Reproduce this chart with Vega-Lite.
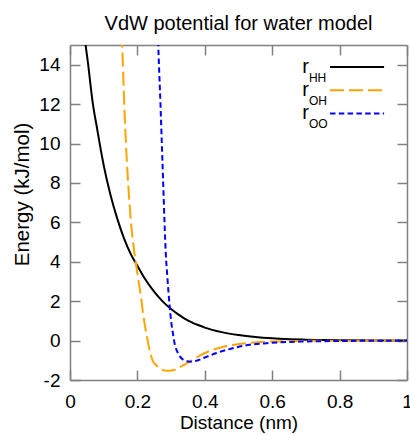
{
  "$schema": "https://vega.github.io/schema/vega-lite/v6.json",
  "autosize": {"type": "none"},
  "width": 337,
  "height": 335,
  "padding": {"left": 70, "top": 45, "right": 3, "bottom": 55},
  "background": "white",
  "title": {"text": "VdW potential for water model", "font": "Liberation Sans", "fontSize": 20, "fontWeight": "normal", "color": "black", "anchor": "middle", "offset": 17, "baseline": "alphabetic", "dy": 23},
  "config": {
    "view": {"stroke": null},
    "axis": {"domainColor": "#808080", "domainWidth": 1.5, "tickColor": "#808080", "tickWidth": 1.5, "tickSize": -10, "grid": false, "labelFont": "Liberation Sans", "labelFontSize": 19, "labelColor": "black", "titleFont": "Liberation Sans", "titleFontSize": 19, "titleFontWeight": "normal", "titleColor": "black", "labelFlush": false, "labelOverlap": false}
  },
  "datasets": {
    "hh": [
      {"r": 0.040, "E": 16.0}, {"r": 0.046, "E": 15.05}, {"r": 0.054, "E": 14.0}, {"r": 0.06, "E": 13.1},
      {"r": 0.068, "E": 12.0}, {"r": 0.08, "E": 10.8}, {"r": 0.086, "E": 10.2}, {"r": 0.10, "E": 8.9},
      {"r": 0.12, "E": 7.4}, {"r": 0.14, "E": 6.2}, {"r": 0.16, "E": 5.2}, {"r": 0.18, "E": 4.4},
      {"r": 0.20, "E": 3.8}, {"r": 0.22, "E": 3.2}, {"r": 0.24, "E": 2.7}, {"r": 0.26, "E": 2.27},
      {"r": 0.28, "E": 1.9}, {"r": 0.30, "E": 1.6}, {"r": 0.32, "E": 1.34}, {"r": 0.34, "E": 1.12},
      {"r": 0.36, "E": 0.94}, {"r": 0.38, "E": 0.79}, {"r": 0.40, "E": 0.66}, {"r": 0.45, "E": 0.43},
      {"r": 0.50, "E": 0.28}, {"r": 0.55, "E": 0.18}, {"r": 0.60, "E": 0.115}, {"r": 0.65, "E": 0.074},
      {"r": 0.70, "E": 0.048}, {"r": 0.75, "E": 0.031}, {"r": 0.80, "E": 0.02}, {"r": 0.90, "E": 0.008},
      {"r": 1.00, "E": 0.003}
    ],
    "oh": [
      {"r": 0.150, "E": 17.5}, {"r": 0.155, "E": 15.0}, {"r": 0.161, "E": 12.0}, {"r": 0.166, "E": 10.0},
      {"r": 0.1725, "E": 8.0}, {"r": 0.181, "E": 6.0}, {"r": 0.187, "E": 5.0}, {"r": 0.195, "E": 4.0},
      {"r": 0.2035, "E": 3.0}, {"r": 0.210, "E": 2.3}, {"r": 0.216, "E": 1.5}, {"r": 0.222, "E": 0.8},
      {"r": 0.2305, "E": 0.0}, {"r": 0.237, "E": -0.55}, {"r": 0.245, "E": -1.0}, {"r": 0.256, "E": -1.25},
      {"r": 0.267, "E": -1.42}, {"r": 0.281, "E": -1.52}, {"r": 0.292, "E": -1.53}, {"r": 0.311, "E": -1.48},
      {"r": 0.336, "E": -1.25}, {"r": 0.356, "E": -1.06}, {"r": 0.385, "E": -0.76}, {"r": 0.415, "E": -0.52},
      {"r": 0.45, "E": -0.34}, {"r": 0.484, "E": -0.22}, {"r": 0.534, "E": -0.11}, {"r": 0.584, "E": -0.055},
      {"r": 0.65, "E": -0.025}, {"r": 0.75, "E": -0.01}, {"r": 0.85, "E": -0.004}, {"r": 1.0, "E": 0.0}
    ],
    "oo": [
      {"r": 0.259, "E": 17.0}, {"r": 0.262, "E": 15.0}, {"r": 0.2685, "E": 12.0}, {"r": 0.2725, "E": 10.0},
      {"r": 0.2765, "E": 8.0}, {"r": 0.2805, "E": 6.0}, {"r": 0.284, "E": 4.5}, {"r": 0.289, "E": 3.2},
      {"r": 0.2955, "E": 1.8}, {"r": 0.300, "E": 1.0}, {"r": 0.306, "E": 0.3}, {"r": 0.311, "E": -0.2},
      {"r": 0.318, "E": -0.55}, {"r": 0.326, "E": -0.8}, {"r": 0.336, "E": -0.97}, {"r": 0.347, "E": -1.05},
      {"r": 0.358, "E": -1.07}, {"r": 0.368, "E": -1.05}, {"r": 0.38, "E": -1.0}, {"r": 0.40, "E": -0.86},
      {"r": 0.435, "E": -0.63}, {"r": 0.485, "E": -0.38}, {"r": 0.534, "E": -0.21}, {"r": 0.584, "E": -0.13},
      {"r": 0.683, "E": -0.05}, {"r": 0.8, "E": -0.02}, {"r": 0.9, "E": -0.008}, {"r": 1.0, "E": 0.0}
    ]
  },
  "layer": [
    {
      "data": {"name": "hh"},
      "mark": {"type": "line", "color": "black", "strokeWidth": 2, "clip": true, "interpolate": "monotone"},
      "encoding": {
        "x": {"field": "r", "type": "quantitative", "scale": {"domain": [0, 1], "nice": false, "zero": false},
              "axis": {"orient": "bottom", "values": [0, 0.2, 0.4, 0.6, 0.8, 1], "format": "~g", "labelPadding": 22, "title": "Distance (nm)", "titleY": 48, "titleBaseline": "alphabetic"}},
        "y": {"field": "E", "type": "quantitative", "scale": {"domain": [-2, 15], "nice": false, "zero": false},
              "axis": {"orient": "left", "values": [-2, 0, 2, 4, 6, 8, 10, 12, 14], "format": "d", "labelExpr": "replace(datum.label, '\u2212', '-')", "labelPadding": 20, "title": "Energy (kJ/mol)", "titleFontSize": 20.5, "titleX": -42, "titleY": 149, "titleAlign": "center", "titleBaseline": "alphabetic", "titleAngle": 270}}
      }
    },
    {
      "data": {"name": "oh"},
      "mark": {"type": "line", "color": "#FFA500", "strokeWidth": 2, "strokeDash": [14, 5], "clip": true, "interpolate": "monotone"},
      "encoding": {
        "x": {"field": "r", "type": "quantitative", "axis": {"orient": "top", "values": [0, 0.2, 0.4, 0.6, 0.8, 1], "labels": false, "title": null}},
        "y": {"field": "E", "type": "quantitative", "axis": {"orient": "right", "values": [-2, 0, 2, 4, 6, 8, 10, 12, 14], "labels": false, "title": null}}
      }
    },
    {
      "data": {"name": "oo"},
      "mark": {"type": "line", "color": "#0000FF", "strokeWidth": 2, "strokeDash": [5.5, 3.3], "clip": true, "interpolate": "monotone"},
      "encoding": {
        "x": {"field": "r", "type": "quantitative", "axis": null},
        "y": {"field": "E", "type": "quantitative", "axis": null}
      }
    },
    {
      "data": {"values": [{}]},
      "mark": {"type": "rule", "color": "black", "strokeWidth": 2},
      "encoding": {"x": {"datum": 0.7715, "axis": null}, "x2": {"datum": 0.932}, "y": {"datum": 13.88, "axis": null}}
    },
    {
      "data": {"values": [{}]},
      "mark": {"type": "rule", "color": "#FFA500", "strokeWidth": 2, "strokeDash": [14, 5]},
      "encoding": {"x": {"datum": 0.7715, "axis": null}, "x2": {"datum": 0.932}, "y": {"datum": 12.71, "axis": null}}
    },
    {
      "data": {"values": [{}]},
      "mark": {"type": "rule", "color": "#0000FF", "strokeWidth": 2, "strokeDash": [5.5, 3.3]},
      "encoding": {"x": {"datum": 0.7715, "axis": null}, "x2": {"datum": 0.932}, "y": {"datum": 11.52, "axis": null}}
    },
    {
      "data": {"values": [{}]},
      "mark": {"type": "text", "text": "r", "align": "right", "baseline": "alphabetic", "dy": 5.6, "font": "Liberation Sans", "fontSize": 20, "color": "black"},
      "encoding": {"x": {"datum": 0.709, "axis": null}, "y": {"datum": 13.88, "axis": null}}
    },
    {
      "data": {"values": [{}]},
      "mark": {"type": "text", "text": "HH", "align": "left", "baseline": "alphabetic", "dy": 14.6, "font": "Liberation Sans", "fontSize": 12, "color": "black"},
      "encoding": {"x": {"datum": 0.709, "axis": null}, "y": {"datum": 13.88, "axis": null}}
    },
    {
      "data": {"values": [{}]},
      "mark": {"type": "text", "text": "r", "align": "right", "baseline": "alphabetic", "dy": 5.6, "font": "Liberation Sans", "fontSize": 20, "color": "black"},
      "encoding": {"x": {"datum": 0.709, "axis": null}, "y": {"datum": 12.71, "axis": null}}
    },
    {
      "data": {"values": [{}]},
      "mark": {"type": "text", "text": "OH", "align": "left", "baseline": "alphabetic", "dy": 14.6, "font": "Liberation Sans", "fontSize": 12, "color": "black"},
      "encoding": {"x": {"datum": 0.709, "axis": null}, "y": {"datum": 12.71, "axis": null}}
    },
    {
      "data": {"values": [{}]},
      "mark": {"type": "text", "text": "r", "align": "right", "baseline": "alphabetic", "dy": 5.6, "font": "Liberation Sans", "fontSize": 20, "color": "black"},
      "encoding": {"x": {"datum": 0.709, "axis": null}, "y": {"datum": 11.52, "axis": null}}
    },
    {
      "data": {"values": [{}]},
      "mark": {"type": "text", "text": "OO", "align": "left", "baseline": "alphabetic", "dy": 14.6, "font": "Liberation Sans", "fontSize": 12, "color": "black"},
      "encoding": {"x": {"datum": 0.709, "axis": null}, "y": {"datum": 11.52, "axis": null}}
    }
  ]
}
